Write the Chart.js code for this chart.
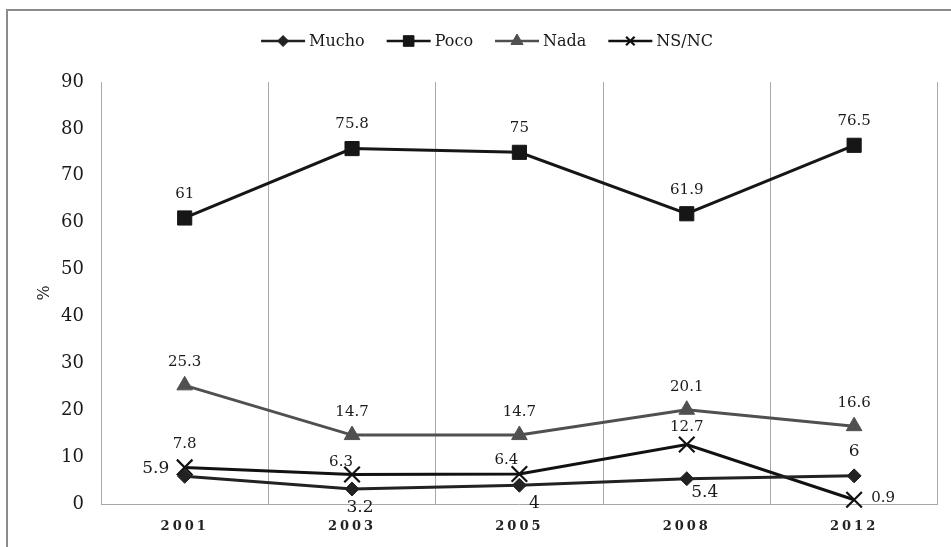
<!DOCTYPE html>
<html>
<head>
<meta charset="utf-8">
<script src="https://cdn.jsdelivr.net/npm/chart.js@4/dist/chart.umd.min.js"></script>
<style>
  html, body { margin: 0; padding: 0; background: #fff; }
  #wrap { position: relative; width: 951px; height: 547px; }
</style>
</head>
<body>
<div id="wrap"><canvas id="c" width="951" height="547"></canvas></div>
<script>
// Survey years and shares (%) per answer
const years = ['2001', '2003', '2005', '2008', '2012'];
const mucho = [5.9, 3.2, 4, 5.4, 6];
const poco  = [61, 75.8, 75, 61.9, 76.5];
const nada  = [25.3, 14.7, 14.7, 20.1, 16.6];
const nsnc  = [7.8, 6.3, 6.4, 12.7, 0.9];
const yTicks = [0, 10, 20, 30, 40, 50, 60, 70, 80, 90];

const SERIF = '"DejaVu Serif", "Liberation Serif", serif';

// Where each value label sits relative to its point (dx, dy in px)
const labelOffsets = {
  Mucho:   [[-29, -8], [8, 19], [15, 18], [18, 14], [0, -24]],
  Poco:    [[0, -24], [0, -24], [0, -24], [0, -24], [0, -24]],
  Nada:    [[0, -23], [0, -23], [0, -23], [0, -23], [0, -23]],
  'NS/NC': [[0, -23], [-11, -12], [-13, -14], [0, -17], [29, -2]]
};
const labelSizes = { Mucho: 17, Poco: 15, Nada: 15, 'NS/NC': 15 };

// Legend marker sizes (smaller than plot markers)
const legendRadius = { Mucho: 5.5, Poco: 7.5, Nada: 7, 'NS/NC': 6 };

const framePlugin = {
  id: 'frame',
  beforeDraw(chart) {
    const ctx = chart.ctx;
    ctx.save();
    ctx.fillStyle = '#ffffff';
    ctx.fillRect(0, 0, chart.width, chart.height);
    ctx.strokeStyle = '#8c8c8c';
    ctx.lineWidth = 2;
    ctx.beginPath();
    ctx.moveTo(7, chart.height);
    ctx.lineTo(7, 10);
    ctx.lineTo(chart.width, 10);
    ctx.stroke();
    ctx.restore();
  }
};

const valueLabels = {
  id: 'valueLabels',
  afterDatasetsDraw(chart) {
    const ctx = chart.ctx;
    ctx.save();
    ctx.fillStyle = '#1a1a1a';
    ctx.textAlign = 'center';
    ctx.textBaseline = 'middle';
    chart.data.datasets.forEach((ds, di) => {
      const meta = chart.getDatasetMeta(di);
      ctx.font = labelSizes[ds.label] + 'px ' + SERIF;
      meta.data.forEach((pt, i) => {
        const off = labelOffsets[ds.label][i];
        ctx.fillText(String(ds.data[i]), pt.x + off[0], pt.y + off[1]);
      });
    });
    ctx.restore();
    // the x tick labels (drawn on a later layer) are letter-spaced
    ctx.letterSpacing = '3px';
  },
  afterDraw(chart) {
    const ctx = chart.ctx;
    ctx.letterSpacing = '0px';
    // legend: line + marker, then the series name
    ctx.save();
    ctx.font = '16px ' + SERIF;
    ctx.textBaseline = 'middle';
    ctx.textAlign = 'left';
    const lineLen = 44, gapText = 4, gapItem = 22, cy = 41;
    const items = chart.data.datasets.map(ds => ({ ds, w: lineLen + gapText + ctx.measureText(ds.label).width }));
    const total = items.reduce((s, it) => s + it.w, 0) + gapItem * (items.length - 1);
    let x = 487 - total / 2;
    items.forEach(({ ds }) => {
      ctx.strokeStyle = ds.borderColor;
      ctx.lineWidth = 2.5;
      ctx.beginPath();
      ctx.moveTo(x, cy);
      ctx.lineTo(x + lineLen, cy);
      ctx.stroke();
      ctx.fillStyle = ds.pointBackgroundColor;
      ctx.strokeStyle = ds.pointBorderColor;
      ctx.lineWidth = ds.pointBorderWidth;
      Chart.helpers.drawPoint(ctx, {
        pointStyle: ds.pointStyle, radius: legendRadius[ds.label], rotation: 0, borderWidth: ds.pointBorderWidth
      }, x + lineLen / 2, cy);
      ctx.fillStyle = '#1a1a1a';
      ctx.fillText(ds.label, x + lineLen + gapText, cy + 1);
      x += lineLen + gapText + ctx.measureText(ds.label).width + gapItem;
    });
    ctx.restore();
  }
};

function series(label, data, color, style, radius, bw) {
  return {
    label, data,
    borderColor: color, borderWidth: 3, tension: 0,
    pointStyle: style, pointRadius: radius, pointHoverRadius: radius,
    pointBackgroundColor: color, pointBorderColor: color, pointBorderWidth: bw,
    clip: false
  };
}

new Chart(document.getElementById('c'), {
  type: 'line',
  data: {
    labels: years,
    datasets: [
      series('Mucho', mucho, '#222222', 'rectRot', 7, 1),
      series('Poco', poco, '#161616', 'rect', 10, 1),
      series('Nada', nada, '#505050', 'triangle', 9, 1),
      series('NS/NC', nsnc, '#111111', 'crossRot', 11, 2.2)
    ]
  },
  options: {
    responsive: false,
    animation: false,
    events: [],
    layout: { padding: { left: 30, right: 13, top: 82, bottom: 0 } },
    plugins: { legend: { display: false }, tooltip: { enabled: false } },
    scales: {
      x: {
        offset: true,
        grid: { display: true, offset: true, color: '#a8a8a8', lineWidth: 1, drawTicks: false },
        border: { display: true, color: '#a8a8a8', width: 1 },
        ticks: { z: 1, padding: 15, color: '#222222', font: { family: SERIF, size: 13, weight: 'bold' } },
        afterFit(s) { s.height = 43; }
      },
      y: {
        min: 0, max: 90,
        afterBuildTicks(s) { s.ticks = yTicks.map(v => ({ value: v })); },
        grid: { display: false, drawTicks: false },
        border: { display: true, color: '#a8a8a8', width: 1 },
        ticks: { padding: 17, color: '#1a1a1a', font: { family: SERIF, size: 18 } },
        title: { display: true, text: '%', color: '#1a1a1a', font: { family: SERIF, size: 16 }, padding: { top: 5, bottom: 0 } },
        afterFit(s) { s.width = 71; }
      }
    }
  },
  plugins: [framePlugin, valueLabels]
});
</script>
</body>
</html>
